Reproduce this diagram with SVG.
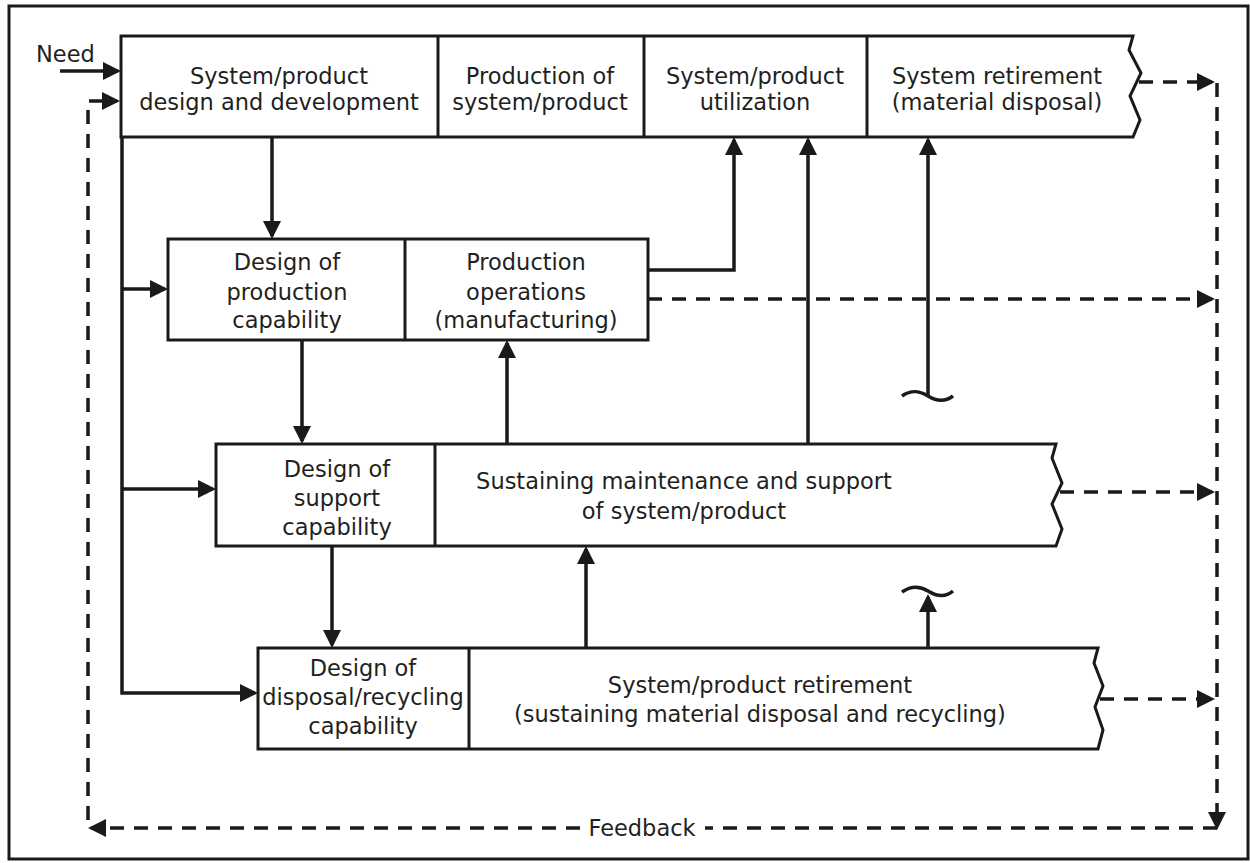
<svg xmlns="http://www.w3.org/2000/svg" width="1250" height="863" viewBox="0 0 1250 863">
<style>
.box{fill:#fff;stroke:#1a1a1a;stroke-width:3}
.div{stroke:#1a1a1a;stroke-width:3}
.c{fill:none;stroke:#1a1a1a;stroke-width:3.5}
.d{fill:none;stroke:#1a1a1a;stroke-width:3.5;stroke-dasharray:14 10}
text{font-family:"DejaVu Sans","Liberation Sans",sans-serif;font-size:22.5px;fill:#231f20;text-anchor:middle}
</style>
<defs>
<marker id="ah" markerUnits="userSpaceOnUse" markerWidth="18" markerHeight="18" refX="15" refY="9" orient="auto">
<path d="M0,0 L18,9 L0,18 Z" fill="#1a1a1a"/>
</marker>
</defs>
<rect x="9" y="6" width="1239" height="853" fill="#fff" stroke="#1a1a1a" stroke-width="3"/>

<g id="top-row">
<path class="box" d="M121,36 H1133 L1129,50 L1141,73 L1130,96 L1140,120 L1133,137 H121 Z"/>
<line class="div" x1="438" y1="36" x2="438" y2="137"/>
<line class="div" x1="644" y1="36" x2="644" y2="137"/>
<line class="div" x1="867" y1="36" x2="867" y2="137"/>
<text x="279" y="84">System/product</text>
<text x="279" y="110">design and development</text>
<text x="540" y="84">Production of</text>
<text x="540" y="110">system/product</text>
<text x="755" y="84">System/product</text>
<text x="755" y="110">utilization</text>
<text x="997" y="84">System retirement</text>
<text x="997" y="110">(material disposal)</text>
</g>

<g id="production-row">
<rect class="box" x="168" y="239" width="480" height="101"/>
<line class="div" x1="405" y1="239" x2="405" y2="340"/>
<text x="287" y="270">Design of</text>
<text x="287" y="300">production</text>
<text x="287" y="328">capability</text>
<text x="526" y="270">Production</text>
<text x="526" y="300">operations</text>
<text x="526" y="328">(manufacturing)</text>
</g>

<g id="support-row">
<path class="box" d="M216,444 H1056 L1052,458 L1062,483 L1052,504 L1062,529 L1056,546 H216 Z"/>
<line class="div" x1="435" y1="444" x2="435" y2="546"/>
<text x="337" y="477">Design of</text>
<text x="337" y="506">support</text>
<text x="337" y="535">capability</text>
<text x="684" y="489">Sustaining maintenance and support</text>
<text x="684" y="519">of system/product</text>
</g>

<g id="retirement-row">
<path class="box" d="M258,648 H1098 L1094,663 L1103,686 L1095,707 L1103,730 L1098,749 H258 Z"/>
<line class="div" x1="469" y1="648" x2="469" y2="749"/>
<text x="363" y="676">Design of</text>
<text x="363" y="705">disposal/recycling</text>
<text x="363" y="734">capability</text>
<text x="760" y="693">System/product retirement</text>
<text x="760" y="722">(sustaining material disposal and recycling)</text>
</g>

<g id="labels">
<text x="36" y="62" style="text-anchor:start">Need</text>
<text x="642" y="836">Feedback</text>
</g>

<g id="connectors">
<path class="c" d="M60,71 H118" marker-end="url(#ah)"/>
<path class="c" d="M272,137 V236" marker-end="url(#ah)"/>
<path class="c" d="M122,137 V693 H255" marker-end="url(#ah)"/>
<path class="c" d="M122,289 H165" marker-end="url(#ah)"/>
<path class="c" d="M122,489 H213" marker-end="url(#ah)"/>
<path class="c" d="M302,340 V441" marker-end="url(#ah)"/>
<path class="c" d="M332,546 V645" marker-end="url(#ah)"/>
<path class="c" d="M648,270 H734 V140" marker-end="url(#ah)"/>
<path class="c" d="M507,444 V343" marker-end="url(#ah)"/>
<path class="c" d="M808,444 V140" marker-end="url(#ah)"/>
<path class="c" d="M928,397 V140" marker-end="url(#ah)"/>
<path class="c" d="M586,648 V549" marker-end="url(#ah)"/>
<path class="c" d="M928,648 V597" marker-end="url(#ah)"/>
<path class="c" stroke-width="3" d="M902,396 C912,389 920,391 928,396 C936,401 945,402 953,396"/>
<path class="c" stroke-width="3" d="M902,592 C912,585 920,586 928,591 C936,596 945,598 953,591"/>
<path class="d" d="M1139,82 H1212" marker-end="url(#ah)"/>
<path class="d" d="M648,299 H1212" marker-end="url(#ah)"/>
<path class="d" d="M1060,492 H1212" marker-end="url(#ah)"/>
<path class="d" d="M1100,699 H1212" marker-end="url(#ah)"/>
<path class="d" d="M1217,83 V827" marker-end="url(#ah)"/>
<path class="d" d="M1217,828 H705"/>
<path class="d" d="M580,828 H91" marker-end="url(#ah)"/>
<path class="d" d="M88,820 V101 H117" marker-end="url(#ah)"/>
</g>
</svg>
